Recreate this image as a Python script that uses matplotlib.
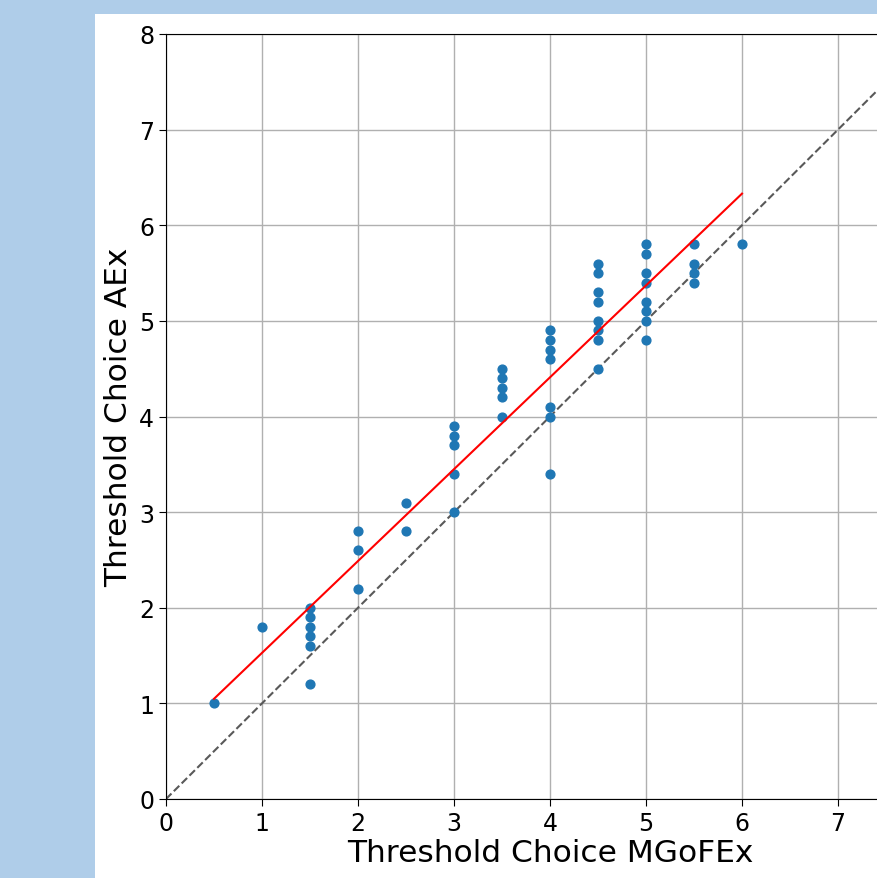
import numpy as np
import matplotlib.pyplot as plt
from matplotlib.patches import Rectangle

# threshold choices, one entry per pair (MGoFEx, AEx)
mgofex = [0.5, 1.0,
          1.5, 1.5, 1.5, 1.5, 1.5, 1.5,
          2.0, 2.0, 2.0,
          2.5, 2.5,
          3.0, 3.0, 3.0, 3.0, 3.0,
          3.5, 3.5, 3.5, 3.5, 3.5,
          4.0, 4.0, 4.0, 4.0, 4.0, 4.0, 4.0,
          4.5, 4.5, 4.5, 4.5, 4.5, 4.5, 4.5, 4.5,
          5.0, 5.0, 5.0, 5.0, 5.0, 5.0, 5.0, 5.0,
          5.5, 5.5, 5.5, 5.5,
          6.0]
aex = [1.0, 1.8,
       2.0, 1.9, 1.8, 1.7, 1.6, 1.2,
       2.8, 2.6, 2.2,
       3.1, 2.8,
       3.9, 3.8, 3.7, 3.4, 3.0,
       4.5, 4.4, 4.3, 4.2, 4.0,
       4.9, 4.8, 4.7, 4.6, 4.1, 4.0, 3.4,
       5.6, 5.5, 5.3, 5.2, 5.0, 4.9, 4.8, 4.5,
       5.8, 5.7, 5.5, 5.4, 5.2, 5.1, 5.0, 4.8,
       5.8, 5.6, 5.5, 5.4,
       5.8]

x = np.array(mgofex)
y = np.array(aex)

fig = plt.figure(figsize=(8.77, 8.79), dpi=100)
fig.patch.set_facecolor('#afcde9')
# white page area (the screenshot is cropped)
fig.patches.append(Rectangle((95 / 877, 0), 1, (879 - 15) / 879,
                             transform=fig.transFigure, facecolor='white',
                             edgecolor='none', zorder=-10))

ax = fig.add_axes([166 / 877, 79 / 879, 768 / 877, 765 / 879])
ax.set_xlim(0, 8)
ax.set_ylim(0, 8)

ax.scatter(x, y, s=40, color='#1f77b4', zorder=3)

# linear fit
p = np.polyfit(x, y, 1)
xf = np.array([x.min(), x.max()])
ax.plot(xf, np.polyval(p, xf), color='red', lw=1.5, zorder=4)

# identity line
ax.plot([0, 8], [0, 8], ls='--', color='0.35', lw=1.5, zorder=2)

ax.grid(True, color='#b0b0b0', lw=1)
ax.set_axisbelow(True)
ax.set_xticks(range(0, 8))
ax.set_yticks(range(0, 9))
ax.tick_params(labelsize=17, length=5)
ax.set_xlabel('Threshold Choice MGoFEx', fontsize=22.5, labelpad=2)
ax.set_ylabel('Threshold Choice AEx', fontsize=22.5)

fig.savefig('out.png', dpi=100, facecolor=fig.get_facecolor())
